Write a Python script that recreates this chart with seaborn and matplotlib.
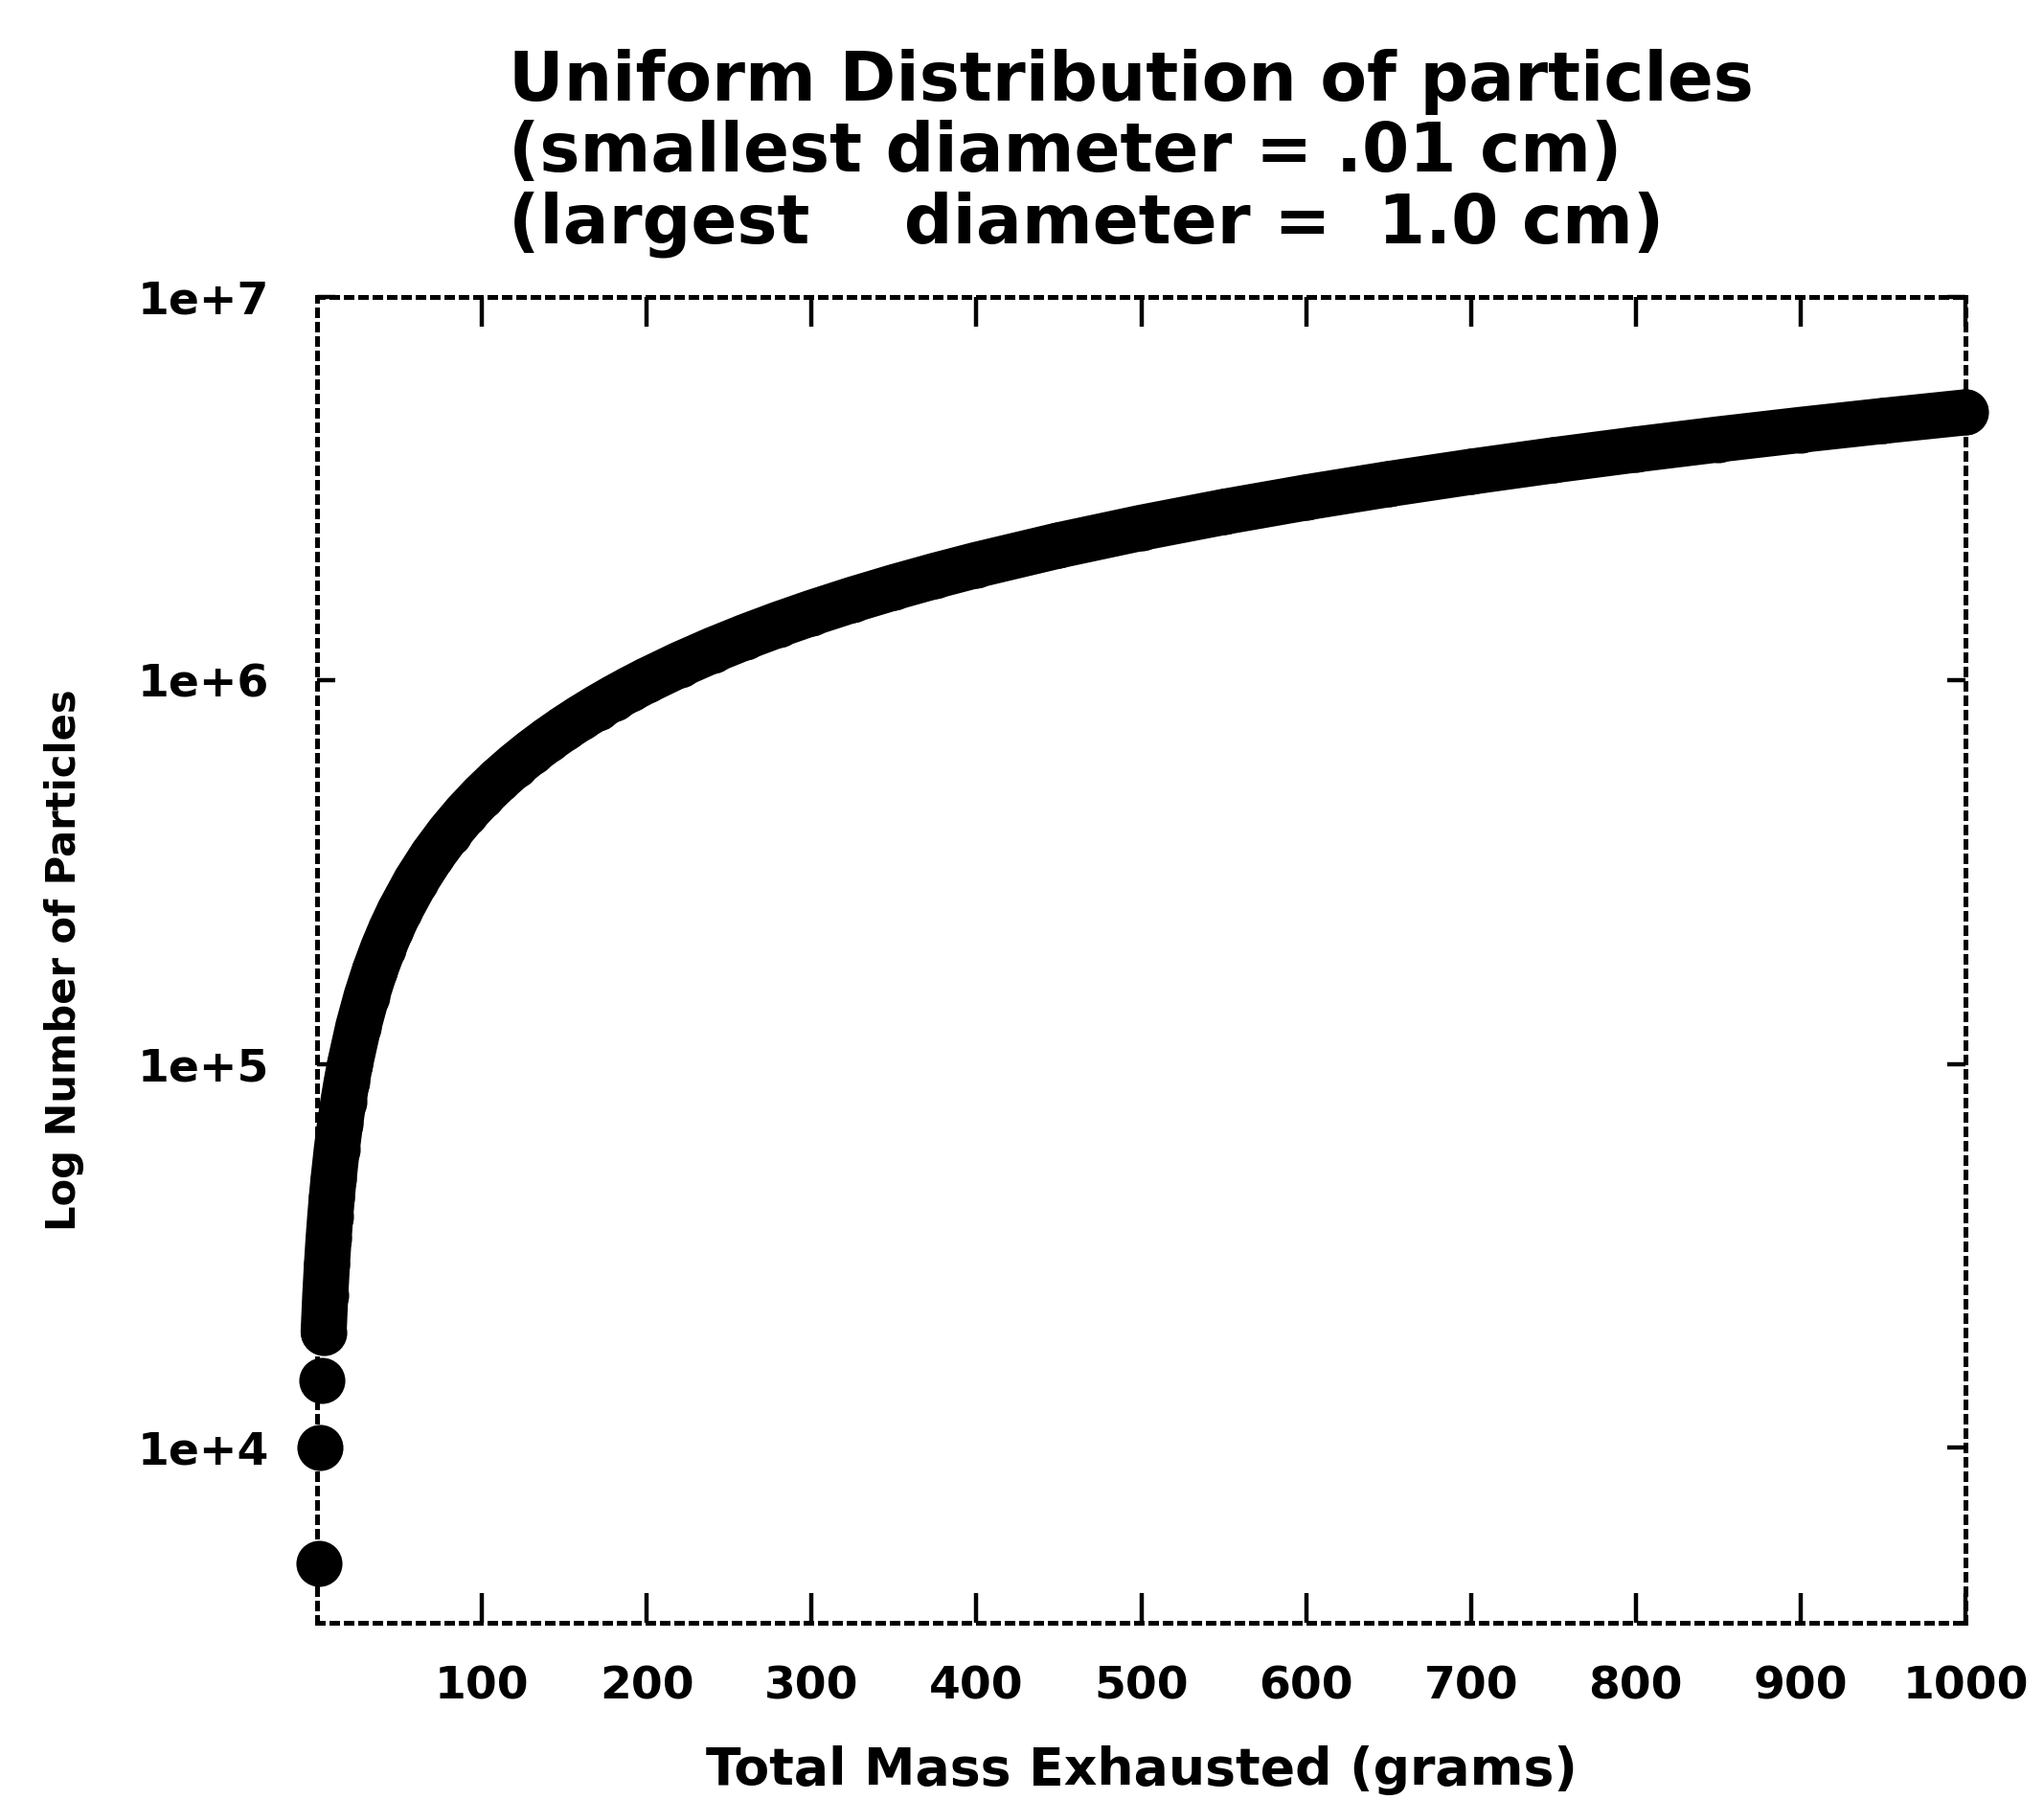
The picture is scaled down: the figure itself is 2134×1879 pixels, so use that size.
import numpy as np
import pandas as pd
import seaborn as sns
import matplotlib
matplotlib.use('Agg')
import matplotlib.pyplot as plt
from matplotlib.ticker import FixedLocator, FixedFormatter, NullLocator

# values
mass_g = [1, 2, 3, 4, 5, 6, 7, 8, 9, 10,
          12, 14, 16, 18, 20,
          25, 30, 35, 40, 45, 50,
          60, 70, 80, 90, 100, 110, 120, 130, 140, 150, 160, 170, 180, 190, 200,
          220, 240, 260, 280, 300,
          325, 350, 375, 400,
          450, 500, 550, 600, 650, 700, 750, 800, 850, 900, 950, 1000]
n_particles = [5.0e3, 1.0e4, 1.5e4, 2.0e4, 2.5e4, 3.0e4, 3.5e4, 4.0e4, 4.5e4, 5.0e4,
               6.0e4, 7.0e4, 8.0e4, 9.0e4, 1.0e5,
               1.25e5, 1.5e5, 1.75e5, 2.0e5, 2.25e5, 2.5e5,
               3.0e5, 3.5e5, 4.0e5, 4.5e5, 5.0e5, 5.5e5, 6.0e5, 6.5e5, 7.0e5, 7.5e5,
               8.0e5, 8.5e5, 9.0e5, 9.5e5, 1.0e6,
               1.1e6, 1.2e6, 1.3e6, 1.4e6, 1.5e6,
               1.625e6, 1.75e6, 1.875e6, 2.0e6,
               2.25e6, 2.5e6, 2.75e6, 3.0e6, 3.25e6, 3.5e6, 3.75e6, 4.0e6, 4.25e6,
               4.5e6, 4.75e6, 5.0e6]

x_ticks = [100, 200, 300, 400, 500, 600, 700, 800, 900, 1000]
y_ticks = [1e4, 1e5, 1e6, 1e7]
y_tick_labels = ['1e+4', '1e+5', '1e+6', '1e+7']

title = ('Uniform Distribution of particles\n'
         '(smallest diameter = .01 cm)\n'
         '(largest    diameter =  1.0 cm)')

df = pd.DataFrame({'mass': mass_g, 'n': n_particles})

sns.set_style('ticks')
plt.rcParams['font.family'] = ['DejaVu Sans']
plt.rcParams['font.weight'] = 'bold'
for key in ['text.color', 'axes.labelcolor', 'xtick.color', 'ytick.color',
            'axes.edgecolor']:
    plt.rcParams[key] = 'black'

fig = plt.figure(figsize=(10.67, 9.395), dpi=200)
ax = fig.add_axes([0.1551, 0.0985, 0.8065, 0.7366])

marker_area = 300
# markers merge into a band once they touch, so the thick line starts there;
# same width as the marker diameter so the band edges stay smooth
sns.lineplot(data=df[df['mass'] >= 4], x='mass', y='n', color='black',
             linewidth=np.sqrt(marker_area), solid_capstyle='round',
             clip_on=False, ax=ax)
sns.scatterplot(data=df, x='mass', y='n', color='black', s=marker_area,
                linewidth=0, clip_on=False, zorder=3, ax=ax)

ax.set_yscale('log')
ax.set_xlim(0, 1000)
ax.set_ylim(3500, 1e7)

ax.xaxis.set_major_locator(FixedLocator(x_ticks))
ax.yaxis.set_major_locator(FixedLocator(y_ticks))
ax.yaxis.set_major_formatter(FixedFormatter(y_tick_labels))
ax.yaxis.set_minor_locator(NullLocator())

ax.tick_params(axis='x', direction='in', top=True, length=11, width=1.6,
               pad=16, labelsize=17, colors='black')
ax.tick_params(axis='y', direction='in', right=True, length=7, width=1.6,
               pad=18, labelsize=17, colors='black')
for lab in ax.get_xticklabels() + ax.get_yticklabels():
    lab.set_fontweight('bold')

# scanned frame looks dotted
for sp in ax.spines.values():
    sp.set_linestyle((0, (1.2, 1.8)))
    sp.set_linewidth(1.8)
    sp.set_color('black')

ax.set_xlabel('Total Mass Exhausted (grams)', fontsize=19.3, fontweight='bold',
              labelpad=14)
ax.set_ylabel('Log Number of Particles', fontsize=15, fontweight='bold',
              labelpad=20)

fig.text(0.2488, 0.973, title, ha='left', va='top', fontsize=25.5,
         fontweight='bold', linespacing=1.1)

fig.savefig('out.png', dpi=200)
